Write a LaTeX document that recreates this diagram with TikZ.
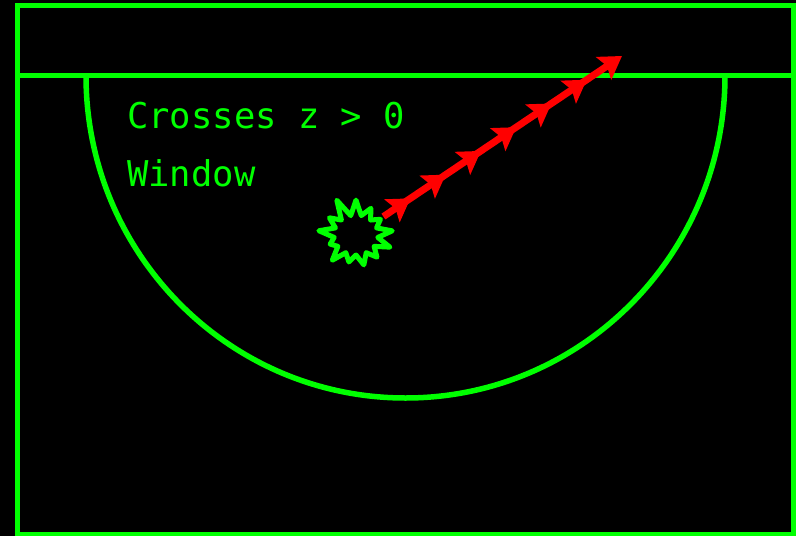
\documentclass[tikz,border=0pt]{standalone}
\usepackage{fontspec}
\setmonofont{DejaVu Sans Mono}
\usetikzlibrary{arrows.meta,shapes.symbols,decorations.markings}
\definecolor{scrgreen}{RGB}{0,255,0}
\definecolor{scrred}{RGB}{255,0,0}
\begin{document}
\begin{tikzpicture}[x=1pt,y=-1pt,
  gline/.style={draw=scrgreen,line width=5.5pt},
  lbl/.style={text=scrgreen,font=\ttfamily\fontsize{35.5}{35.5}\selectfont,anchor=base west,inner sep=0pt}]
\fill[black](0,0)rectangle(796,536);\useasboundingbox(0,0)rectangle(796,536);
% frame and window
\draw[gline](17.5,534.5)--(17.5,5.5)--(794,5.5)--(794,534.5)--cycle;
\draw[gline](17.5,75.5)--(794,75.5);
\draw[gline](86,75.5)arc[start angle=180,end angle=360,x radius=319.5,y radius=-322.5];
\node[lbl](t1) at (127,128){Crosses z > 0};
\node[lbl](t2) at (127,186){Window};
\node[starburst,starburst points=13,starburst point height=20pt,random starburst=11,
  minimum width=84pt,minimum height=80pt,draw=scrgreen,line width=5pt,line join=round,inner sep=0pt](burst) at (356,235){};
\coordinate (tip) at (622,56);
\draw[draw=scrred,line width=7pt,-{Stealth[length=22pt,width=27pt,inset=4pt]},postaction={decorate},
  decoration={markings,
  mark=at position -42.5pt with {\arrow{Stealth[length=22pt,width=27pt,inset=4pt]}},
  mark=at position -85pt with {\arrow{Stealth[length=22pt,width=27pt,inset=4pt]}},
  mark=at position -127.5pt with {\arrow{Stealth[length=22pt,width=27pt,inset=4pt]}},
  mark=at position -170pt with {\arrow{Stealth[length=22pt,width=27pt,inset=4pt]}},
  mark=at position -212.5pt with {\arrow{Stealth[length=22pt,width=27pt,inset=4pt]}},
  mark=at position -255pt with {\arrow{Stealth[length=22pt,width=27pt,inset=4pt]}}}]
  (burst)--(tip);
\end{tikzpicture}
\end{document}
